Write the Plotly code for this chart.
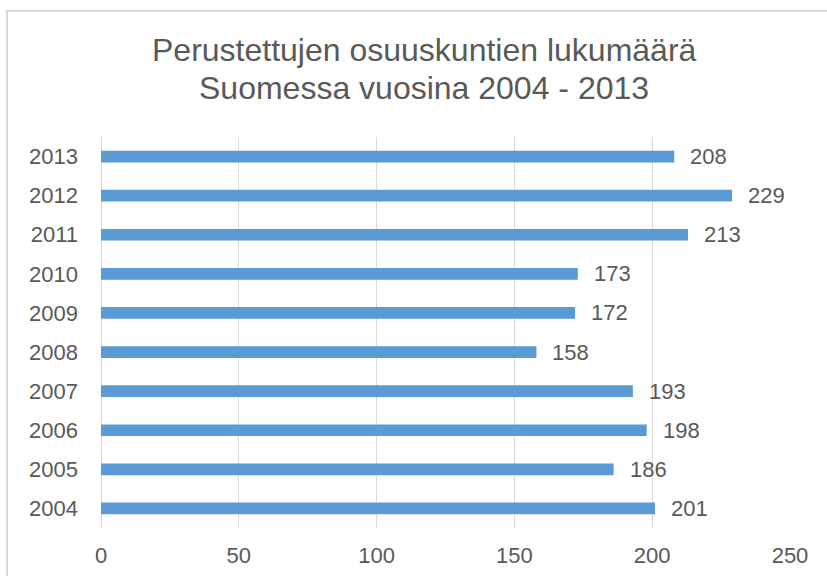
import plotly.graph_objects as go

years = ["2004", "2005", "2006", "2007", "2008", "2009", "2010", "2011", "2012", "2013"]
counts = [201, 186, 198, 193, 158, 172, 173, 213, 229, 208]
x_ticks = [0, 50, 100, 150, 200, 250]
title_lines = ["Perustettujen osuuskuntien lukumäärä", "Suomessa vuosina 2004 - 2013"]

W, H = 827, 576
L, R, T, B = 101, 37, 137, 48
pw, ph = W - L - R, H - T - B

FONT = "Liberation Sans, Arial, sans-serif"
GREY = "#595959"

pos = list(range(len(years)))

fig = go.Figure()
fig.add_trace(go.Bar(
    x=counts, y=pos, orientation="h",
    marker=dict(color="#5b9bd5", line=dict(width=0)),
    width=0.3, hoverinfo="x",
))

for p, v in zip(pos, counts):
    fig.add_annotation(x=v, y=p, xref="x", yref="y", text=str(v),
                       showarrow=False, xanchor="left", yanchor="middle",
                       xshift=14, font=dict(family=FONT, size=22, color=GREY))

def px_to_paper_x(p):
    return (p - L) / pw

def px_to_paper_y(p):
    return (H - B - p) / ph

# two-line chart title
for line, cy in zip(title_lines, [50, 88]):
    fig.add_annotation(x=px_to_paper_x(424), y=px_to_paper_y(cy), xref="paper", yref="paper",
                       text=line, showarrow=False, xanchor="center", yanchor="middle",
                       font=dict(family=FONT, size=32, color=GREY))

fig.add_shape(type="rect", xref="paper", yref="paper",
              x0=px_to_paper_x(7), x1=px_to_paper_x(840),
              y0=px_to_paper_y(590), y1=px_to_paper_y(11),
              line=dict(color="#d9d9d9", width=2), fillcolor="rgba(0,0,0,0)", layer="below")

fig.update_layout(
    width=W, height=H,
    margin=dict(l=L, r=R, t=T, b=B, pad=0, autoexpand=False),
    paper_bgcolor="white", plot_bgcolor="white",
    showlegend=False,
    xaxis=dict(range=[0, 250], tickvals=x_ticks, ticktext=[str(t) for t in x_ticks],
               showgrid=True, gridcolor="#d9d9d9", gridwidth=1,
               zeroline=True, zerolinecolor="#d9d9d9", zerolinewidth=1,
               showline=False, ticks="", ticklabelstandoff=12, automargin=False,
               tickfont=dict(family=FONT, size=22, color=GREY), fixedrange=True),
    yaxis=dict(range=[-0.5, len(years) - 0.5], tickvals=pos, ticktext=years,
               showgrid=False, zeroline=False, showline=False, ticks="",
               ticklabelstandoff=22, automargin=False,
               tickfont=dict(family=FONT, size=22, color=GREY), fixedrange=True),
)

fig.write_html("out.html", config={"displayModeBar": False},
               post_script="document.body.style.margin='0';document.body.style.overflow='hidden';")
